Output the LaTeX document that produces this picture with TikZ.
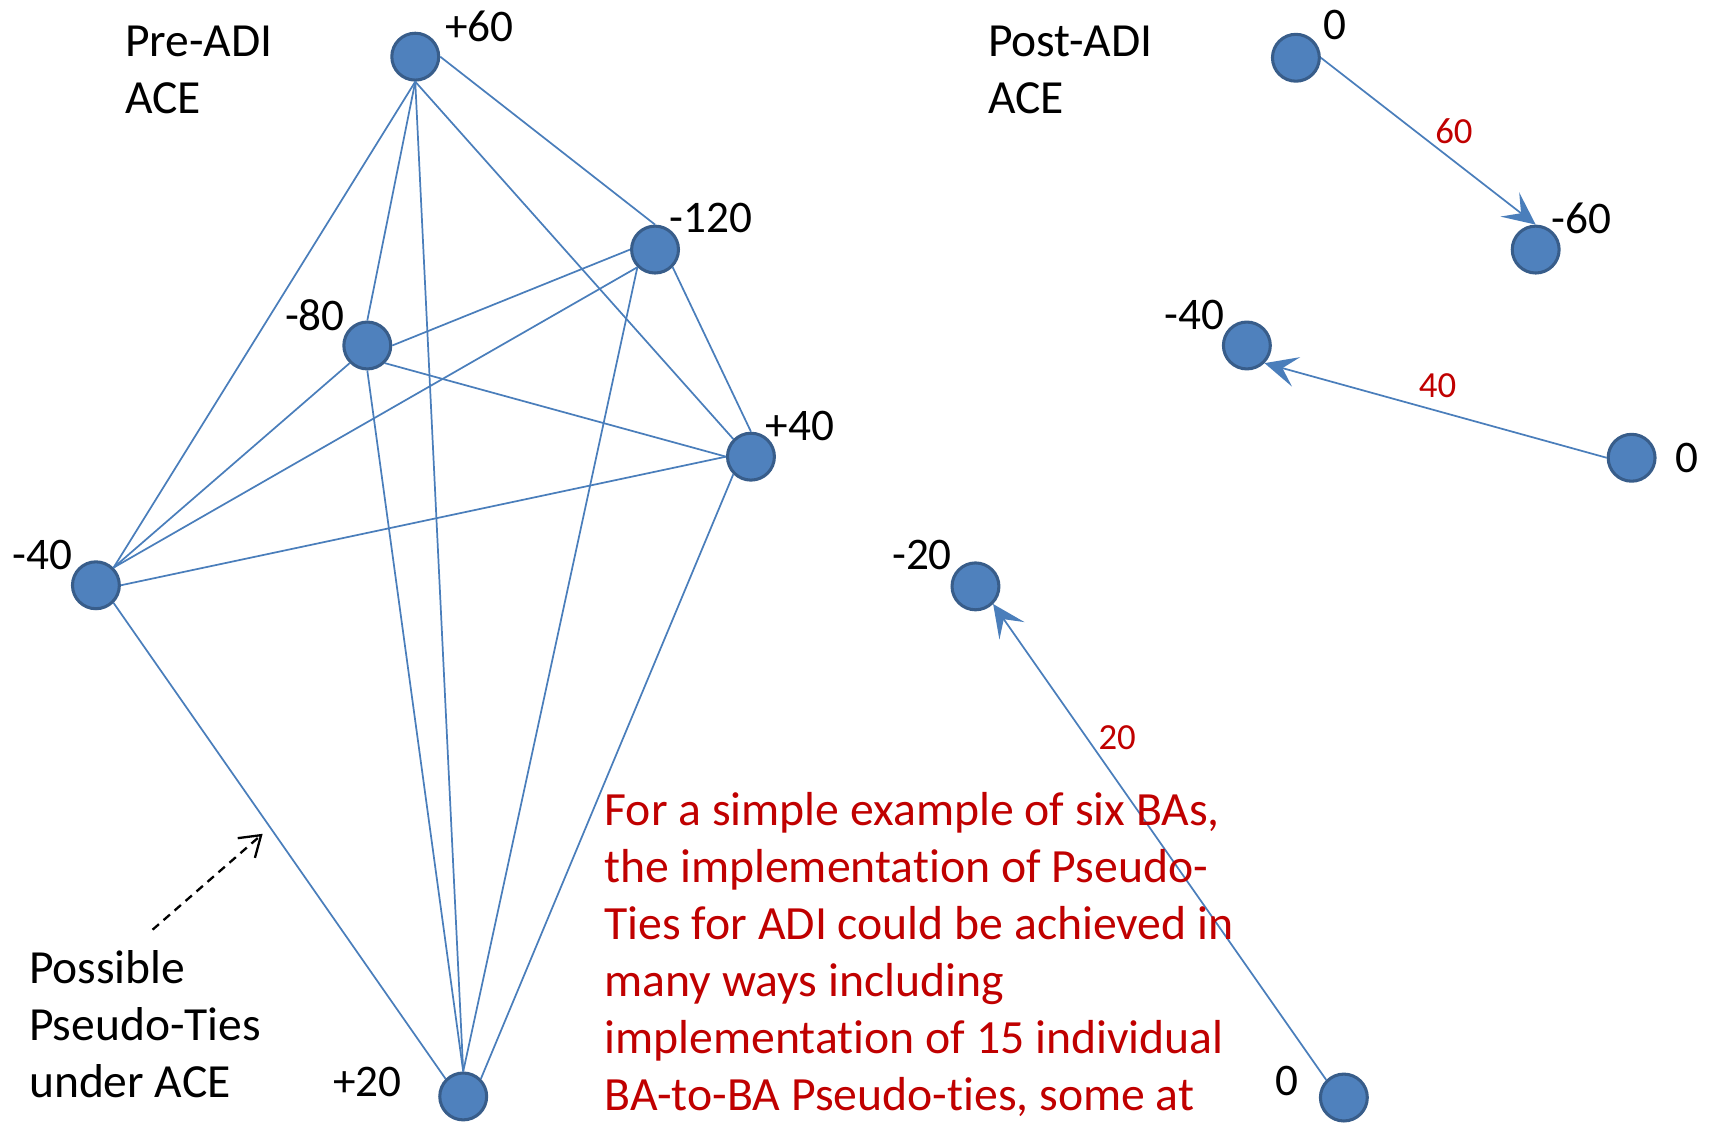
\documentclass[tikz,border=0pt]{standalone}
\usepackage{fontspec}
\setmainfont[Ligatures=NoCommon]{Carlito}
\usetikzlibrary{arrows.meta, positioning}
\definecolor{bafill}{RGB}{79,129,189}
\definecolor{baline}{RGB}{56,93,138}
\definecolor{tieblue}{RGB}{74,126,187}
\definecolor{adired}{RGB}{192,0,0}

\begin{document}
\begin{tikzpicture}[x=0.01cm, y=-0.01cm,
    ba/.style={circle, fill=bafill, draw=baline, line width=0.8pt, minimum size=0.43cm, inner sep=0pt},
    lbl/.style={font=\fontsize{11.8}{14.9}\selectfont, inner sep=0pt},
    txt/.style={font=\fontsize{12.4}{14.9}\selectfont, inner sep=0pt, align=left, anchor=base west},
    tie/.style={color=tieblue, line width=0.45pt},
    adi/.style={tie, -{Stealth[length=3mm, width=2.8mm, inset=1.3mm]}},
    amt/.style={font=\fontsize{9.6}{11}\selectfont, text=adired, inner sep=0pt}]
    \useasboundingbox (0,0) rectangle (1568,1031);

    % pre-ADI balancing areas
    \node[ba] (preP60)  at (381,52)   {};
    \node[ba] (preM120) at (601,229)  {};
    \node[ba] (preM80)  at (337,317)  {};
    \node[ba] (preP40)  at (689,419)  {};
    \node[ba] (preM40)  at (88,537)   {};
    \node[ba] (preP20)  at (425,1006) {};

    \node[lbl] (tP60)  at (440,24)  {+60};
    \node[lbl] (tM120) at (652,200) {-120};
    \node[lbl] (tM80)  at (289,289) {-80};
    \node[lbl] (tP40)  at (734,391) {+40};
    \node[lbl] (tM40)  at (39,509)  {-40};
    \node[lbl] (tP20)  at (337,993) {+20};

    \path[tie]
        (preP60.east) edge (preM120.north)
        (preP60.south) edge (preM80.north)
        (preP60.south) edge (preP40.north west)
        (preP60.south) edge (preM40.north east)
        (preP60.south) edge (preP20.north)
        (preM120.west) edge (preM80.east)
        (preM120.south west) edge (preM40.north east)
        (preM120.south west) edge (preP20.north)
        (preM120.south east) edge (preP40.north)
        (preM80.south east) edge (preP40.west)
        (preM80.south west) edge (preM40.north east)
        (preM80.south) edge (preP20.north)
        (preP40.west) edge (preM40.east)
        (preP40.south west) edge (preP20.north east)
        (preM40.south east) edge (preP20.north west);

    % post-ADI balancing areas
    \node[ba] (postZa)  at (1189,53)  {};
    \node[ba] (postM60) at (1409,229) {};
    \node[ba] (postM40) at (1144,317) {};
    \node[ba] (postZb)  at (1497,420) {};
    \node[ba] (postM20) at (895,538)  {};
    \node[ba] (postZc)  at (1233,1007) {};

    \node[lbl] (tZa)  at (1225,23)  {0};
    \node[lbl] (tM60) at (1451,200) {-60};
    \node[lbl] (tM40b) at (1096,289) {-40};
    \node[lbl] (tZb)  at (1548,420) {0};
    \node[lbl] (tM20) at (846,509)  {-20};
    \node[lbl] (tZc)  at (1181,992) {0};

    \path[adi]
        (postZa.east) edge (postM60.north)
        (postZb.west) edge (postM40.south east)
        (postZc.north west) edge (postM20.south east);

    \node[amt] (f60) at (1334,120) {60};
    \node[amt] (f40) at (1319,354) {40};
    \node[amt] (f20) at (1025,677) {20};

    % captions (base = last line)
    \node[txt] (preTitle)  at (114,104.5) {Pre-ADI\\ACE};
    \node[txt] (postTitle) at (906,104.5) {Post-ADI\\ACE};
    \node[txt] (possible)  at (26,1007)   {Possible\\Pseudo-Ties\\under ACE};
    \node[txt, font=\fontsize{12.45}{14.9}\selectfont, text=adired] (note) at (554,1019)
        {For a simple example of six BAs,\\the implementation of Pseudo-\\Ties for ADI could be achieved in\\many ways including\\implementation of 15 individual\\BA-to-BA Pseudo-ties, some at};

    \coordinate (tail) at (140,853);
    \coordinate (head) at (241,765);
    \draw[line width=0.6pt, dash pattern=on 2.2pt off 1.6pt, -{Straight Barb[length=1.8mm, width=2.4mm]}] (tail) -- (head);
\end{tikzpicture}
\end{document}
